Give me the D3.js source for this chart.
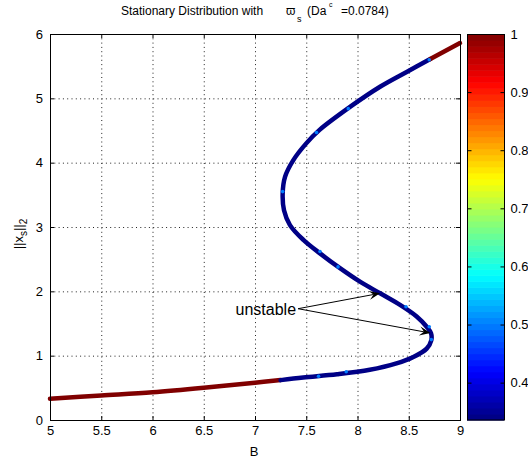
<!DOCTYPE html>
<html><head><meta charset="utf-8">
<script src="https://cdn.jsdelivr.net/npm/d3@7"></script>
<style>body{margin:0;background:#fff} text{font-family:"Liberation Sans",Arial,Helvetica,sans-serif;fill:#000}</style>
</head><body><svg id="c" width="528" height="463"></svg>
<script>
// ---- data ----
const curveB    = [5.00,5.50,6.00,6.50,7.00,7.25,7.47,7.80,8.12,8.38,8.545,8.675,8.72,8.717,8.675,8.577,8.415,8.22,8.024,7.829,7.634,7.472,7.341,7.283,7.27,7.293,7.374,7.50,7.63,7.93,8.22,8.48,8.71,9.00];
const curveNorm = [0.33,0.38,0.43,0.50,0.58,0.62,0.66,0.71,0.78,0.88,0.98,1.11,1.24,1.35,1.45,1.61,1.79,1.97,2.15,2.36,2.59,2.80,3.03,3.26,3.52,3.78,4.04,4.30,4.51,4.87,5.18,5.41,5.61,5.86];
const curveStab = [1,1,1,1,1,1,0.34,0.34,0.34,0.34,0.34,0.34,0.34,0.34,0.34,0.34,0.34,0.34,0.34,0.34,0.34,0.34,0.34,0.34,0.34,0.34,0.34,0.34,0.34,0.34,0.34,0.34,1,1];
const speckB    = [7.62,7.89,7.634,7.81,8.473,8.70,8.72,7.27,7.60,7.91,8.70];
const speckNorm = [0.68,0.75,2.62,2.38,1.76,1.45,1.25,3.55,4.47,4.84,5.60];
const speckStab = [0.5,0.5,0.5,0.5,0.5,0.5,0.5,0.5,0.5,0.5,0.5];
const xTicks = [5,5.5,6,6.5,7,7.5,8,8.5,9];
const yTicks = [0,1,2,3,4,5,6];
const cbTicks = [0.4,0.5,0.6,0.7,0.8,0.9,1];
const cbDomain = [0.3357,1];
const annText = "unstable";
const annTail = [7.42,1.73];
const annTips = [[8.22,1.97],[8.712,1.352]];

// ---- layout ----
const svg = d3.select("#c");
const x = d3.scaleLinear().domain([5,9]).range([50,460]);
const y = d3.scaleLinear().domain([0,6]).range([420,34]);
const cy = d3.scaleLinear().domain(cbDomain).range([420,34]);

function jet(v){
  const t = (v-cbDomain[0])/(cbDomain[1]-cbDomain[0]);
  const c = k => Math.round(255*Math.max(0,Math.min(1,1.5-Math.abs(4*t-k))));
  return `rgb(${c(3)},${c(2)},${c(1)})`;
}

// grid
const grid = svg.append("g").attr("stroke","#222").attr("stroke-dasharray","1,3.3").attr("stroke-width",1);
xTicks.slice(1,-1).forEach(t=>grid.append("line").attr("x1",x(t)+0.5).attr("x2",x(t)+0.5).attr("y1",34).attr("y2",420));
yTicks.slice(1,-1).forEach(t=>grid.append("line").attr("y1",y(t)+0.5).attr("y2",y(t)+0.5).attr("x1",50).attr("x2",460));

// curve segments: a segment is red only if both ends are stable (value 1)
const pts = curveB.map((b,i)=>({b,n:curveNorm[i],s:curveStab[i]}));
const line = d3.line().x(d=>x(d.b)).y(d=>y(d.n)).curve(d3.curveCatmullRom.alpha(0.5));
const segVal = i => Math.min(pts[i].s, pts[i+1].s);
let groups=[], cur={v:segVal(0), p:[pts[0],pts[1]]};
for(let i=1;i<pts.length-1;i++){
  const v=segVal(i);
  if(v===cur.v) cur.p.push(pts[i+1]);
  else { groups.push(cur); cur={v, p:[pts[i],pts[i+1]]}; }
}
groups.push(cur);
groups.forEach(g=>{
  svg.append("path").attr("d",line(g.p)).attr("fill","none").attr("stroke",jet(g.v))
    .attr("stroke-width",4.5).attr("stroke-linecap","round");
});
svg.append("g").selectAll("circle").data(speckB.map((b,i)=>({b,n:speckNorm[i],s:speckStab[i]})))
  .join("circle").attr("cx",d=>x(d.b)).attr("cy",d=>y(d.n)).attr("r",1.8).attr("fill",d=>jet(d.s));

// axes (ticks inside)
const bAx = svg.append("g").attr("transform","translate(0,420)").call(d3.axisBottom(x).tickValues(xTicks).tickSize(-4).tickPadding(6).tickFormat(d3.format("")));
const tAx = svg.append("g").attr("transform","translate(0,34)").call(d3.axisTop(x).tickValues(xTicks).tickSize(-4).tickFormat(""));
const lAx = svg.append("g").attr("transform","translate(50,0)").call(d3.axisLeft(y).tickValues(yTicks).tickSize(-4).tickPadding(7).tickFormat(d3.format("")));
const rAx = svg.append("g").attr("transform","translate(460,0)").call(d3.axisRight(y).tickValues(yTicks).tickSize(-4).tickFormat(""));
[bAx,tAx,lAx,rAx].forEach(a=>{a.attr("font-family",null).attr("font-size",13);a.selectAll("path,line").attr("stroke","#000");});
tAx.select(".domain").remove(); rAx.select(".domain").remove();
svg.append("rect").attr("x",50.5).attr("y",34.5).attr("width",410).attr("height",386).attr("fill","none").attr("stroke","#000");

// colorbar
const cbX=467, cbW=37, nLev=64;
const step=(cbDomain[1]-cbDomain[0])/nLev;
const levels=d3.range(nLev).map(i=>cbDomain[0]+i*step);
svg.append("g").selectAll("rect").data(levels).join("rect")
  .attr("x",cbX).attr("width",cbW).attr("y",d=>cy(d+step)).attr("height",d=>cy(d)-cy(d+step)+0.6)
  .attr("fill",d=>jet(d+step/2));
svg.append("rect").attr("x",cbX+0.5).attr("y",34.5).attr("width",cbW).attr("height",385.5).attr("fill","none").attr("stroke","#000");
const cbA = svg.append("g").attr("transform",`translate(${cbX+cbW+0.5},0)`)
  .call(d3.axisRight(cy).tickValues(cbTicks).tickSize(-4).tickPadding(6).tickFormat(d3.format("")));
cbA.attr("font-family",null).attr("font-size",13); cbA.select(".domain").remove(); cbA.selectAll("line").attr("stroke","#000");
svg.append("g").attr("transform",`translate(${cbX+0.5},0)`).call(d3.axisLeft(cy).tickValues(cbTicks).tickSize(-4).tickFormat(""))
  .call(g=>{g.select(".domain").remove(); g.selectAll("line").attr("stroke","#000");});

// labels
svg.append("text").attr("x",254).attr("y",456).attr("text-anchor","middle").attr("font-size",13).text("B");
const yl = svg.append("text").attr("transform","translate(23,234) rotate(-90)").attr("text-anchor","middle").attr("font-size",13);
yl.append("tspan").text("||x");
yl.append("tspan").attr("dy",4).attr("font-size",10).text("s");
yl.append("tspan").attr("dy",-4).text("||");
yl.append("tspan").attr("dy",4).attr("font-size",10).text("2");

// title
const tt = svg.append("g").attr("font-size",12);
tt.append("text").attr("x",121).attr("y",15).text("Stationary Distribution with");
tt.append("text").attr("x",286).attr("y",15).text("ϖ");
tt.append("text").attr("x",297).attr("y",22).attr("font-size",9).text("s");
tt.append("text").attr("x",307).attr("y",15).text("(Da");
tt.append("text").attr("x",329).attr("y",7).attr("font-size",7).text("c");
tt.append("text").attr("x",341).attr("y",15).text("=0.0784)");

// annotation
svg.append("text").attr("x",x(annTail[0])-2).attr("y",y(annTail[1])+6).attr("text-anchor","end").attr("font-size",16).text(annText);
annTips.forEach(tp=>{
  const [x0,y0]=[x(annTail[0]),y(annTail[1])], [x1,y1]=[x(tp[0]),y(tp[1])];
  const dx=x1-x0, dy=y1-y0, L=Math.hypot(dx,dy), ux=dx/L, uy=dy/L, nx=-uy, ny=ux;
  const hl=11, hw=4.5;
  svg.append("line").attr("x1",x0).attr("y1",y0).attr("x2",x1-ux*hl*0.6).attr("y2",y1-uy*hl*0.6).attr("stroke","#000").attr("stroke-width",1);
  const p=[[x1,y1],[x1-ux*hl+nx*hw,y1-uy*hl+ny*hw],[x1-ux*hl*0.6,y1-uy*hl*0.6],[x1-ux*hl-nx*hw,y1-uy*hl-ny*hw]];
  svg.append("path").attr("d","M"+p.map(q=>q.join(",")).join("L")+"Z").attr("fill","#000");
});
</script></body></html>
